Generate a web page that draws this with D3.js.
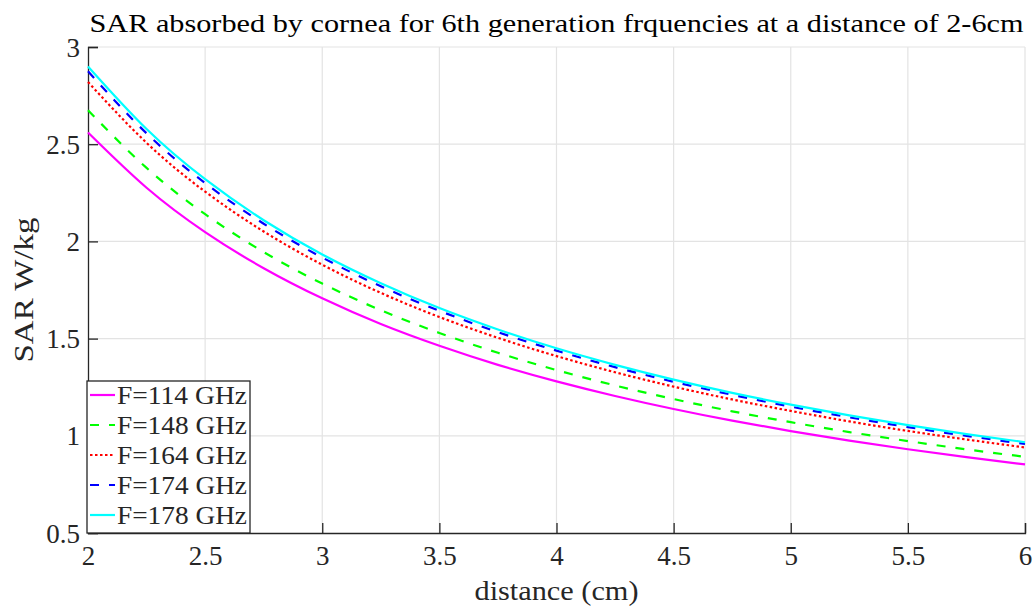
<!DOCTYPE html>
<html>
  <head>
    <meta charset="utf-8">
    <title>SAR cornea</title>
    <script type="text/javascript" src="https://d3js.org/d3.v7.min.js"></script>
    <style type="text/css">
      body { margin: 0; background: #fff; }
      text { font-family: "Liberation Serif", serif; fill: #262626; }
    </style>
  </head>
  <body>
    <div id="chart"></div>
    <script type="text/javascript">

      // data
      var distance = [2, 2.25, 2.5, 2.75, 3, 3.25, 3.5, 3.75, 4, 4.25, 4.5, 4.75, 5, 5.25, 5.5, 5.75, 6];
      var f114 = [2.56, 2.276, 2.048, 1.862, 1.707, 1.575, 1.463, 1.365, 1.28, 1.205, 1.138, 1.078, 1.024, 0.975, 0.931, 0.89, 0.853];
      var f148 = [2.675, 2.378, 2.14, 1.945, 1.783, 1.646, 1.529, 1.427, 1.338, 1.259, 1.189, 1.126, 1.07, 1.019, 0.973, 0.93, 0.892];
      var f164 = [2.82, 2.507, 2.256, 2.051, 1.88, 1.735, 1.611, 1.504, 1.41, 1.327, 1.253, 1.187, 1.128, 1.074, 1.025, 0.981, 0.94];
      var f174 = [2.875, 2.556, 2.3, 2.091, 1.917, 1.769, 1.643, 1.533, 1.438, 1.353, 1.278, 1.211, 1.15, 1.095, 1.045, 1.0, 0.958];
      var f178 = [2.9, 2.578, 2.32, 2.109, 1.933, 1.785, 1.657, 1.547, 1.45, 1.365, 1.289, 1.221, 1.16, 1.105, 1.055, 1.009, 0.967];
      var seriesNames = ["F=114 GHz", "F=148 GHz", "F=164 GHz", "F=174 GHz", "F=178 GHz"];
      var xTicks = [2, 2.5, 3, 3.5, 4, 4.5, 5, 5.5, 6];
      var yTicks = [0.5, 1, 1.5, 2, 2.5, 3];

      var w = 1035;
      var h = 609;
      // plot box (note: "top" is taken by window.top)
      var pLeft = 88, pRight = 1025, pTop = 47, pBottom = 533;
      var serif = "'Liberation Serif', serif";

      var svg = d3.select("#chart")
        .append("svg")
        .attr("width", w)
        .attr("height", h);

      var x = d3.scaleLinear().domain([2, 6]).range([pLeft, pRight]);
      var y = d3.scaleLinear().domain([0.5, 3]).range([pBottom, pTop]);

      //grid
      svg.append("g").selectAll("line")
        .data(xTicks.slice(1))
        .enter().append("line")
        .attr("x1", d => x(d)).attr("x2", d => x(d))
        .attr("y1", pTop).attr("y2", pBottom)
        .attr("stroke", "#e3e3e3").attr("stroke-width", 1.2);
      svg.append("g").selectAll("line")
        .data(yTicks.slice(1))
        .enter().append("line")
        .attr("y1", d => y(d)).attr("y2", d => y(d))
        .attr("x1", pLeft).attr("x2", pRight)
        .attr("stroke", "#e3e3e3").attr("stroke-width", 1.2);

      //axes, ticks point inward
      var xAxis = d3.axisBottom(x).tickValues(xTicks).tickSize(-10).tickPadding(13)
        .tickFormat(d3.format("~g"));
      var yAxis = d3.axisLeft(y).tickValues(yTicks).tickSize(-10).tickPadding(8)
        .tickFormat(d3.format("~g"));

      var gx = svg.append("g").attr("transform", "translate(0," + pBottom + ")").call(xAxis);
      var gy = svg.append("g").attr("transform", "translate(" + pLeft + ",0)").call(yAxis);

      [gx, gy].forEach(function(g) {
        g.select(".domain").attr("stroke", "#262626").attr("stroke-width", 1.3);
        g.selectAll(".tick line").attr("stroke", "#262626").attr("stroke-width", 1.3);
        g.selectAll(".tick text")
          .style("font-family", serif)
          .style("font-size", "27px")
          .attr("fill", "#262626");
      });
      gx.selectAll(".tick text").attr("dy", "0.71em");
      gy.selectAll(".tick text").attr("dy", "0.34em");

      //lines
      var allSeries = [f114, f148, f164, f174, f178];
      var colors = ["#ff00ff", "#00ff00", "#ff0000", "#0000ff", "#00ffff"];
      var dashes = [null, "9,10", "2.5,2.5", "9,10", null];

      var line = d3.line()
        .x(function(d, i) { return x(distance[i]); })
        .y(function(d) { return y(d); })
        .curve(d3.curveNatural);

      allSeries.forEach(function(s, i) {
        svg.append("path")
          .datum(s)
          .attr("d", line)
          .attr("fill", "none")
          .attr("stroke", colors[i])
          .attr("stroke-width", 2.2)
          .attr("stroke-dasharray", dashes[i]);
      });

      //legend
      var legend = svg.append("g");
      legend.append("rect")
        .attr("x", pLeft - 1).attr("y", 381)
        .attr("width", 163).attr("height", pBottom - 381)
        .attr("fill", "#fff")
        .attr("stroke", "#262626").attr("stroke-width", 1.3);

      seriesNames.forEach(function(name, i) {
        var ly = 395 + i * 30;
        legend.append("line")
          .attr("x1", 90).attr("x2", 115)
          .attr("y1", ly).attr("y2", ly)
          .attr("stroke", colors[i])
          .attr("stroke-width", 2.2)
          .attr("stroke-dasharray", dashes[i]);
        legend.append("text")
          .attr("x", 117).attr("y", ly)
          .attr("dy", "0.34em")
          .attr("textLength", 130).attr("lengthAdjust", "spacingAndGlyphs")
          .style("font-family", serif)
          .style("font-size", "26px")
          .attr("fill", "#000")
          .text(name);
      });

      //title and labels
      svg.append("text")
        .attr("x", (pLeft + pRight) / 2).attr("y", 32)
        .attr("text-anchor", "middle")
        .attr("textLength", 934).attr("lengthAdjust", "spacingAndGlyphs")
        .style("font-family", serif)
        .style("font-size", "25px")
        .style("fill", "#000")
        .text("SAR absorbed by cornea for 6th generation frquencies at a distance of 2-6cm");

      svg.append("text")
        .attr("x", (pLeft + pRight) / 2).attr("y", 600)
        .attr("text-anchor", "middle")
        .attr("textLength", 164).attr("lengthAdjust", "spacingAndGlyphs")
        .style("font-family", serif)
        .style("font-size", "27px")
        .text("distance (cm)");

      svg.append("text")
        .attr("transform", "translate(33," + (pTop + pBottom) / 2 + ") rotate(-90)")
        .attr("text-anchor", "middle")
        .attr("textLength", 145).attr("lengthAdjust", "spacingAndGlyphs")
        .style("font-family", serif)
        .style("font-size", "27px")
        .text("SAR W/kg");

    </script>
  </body>
</html>
